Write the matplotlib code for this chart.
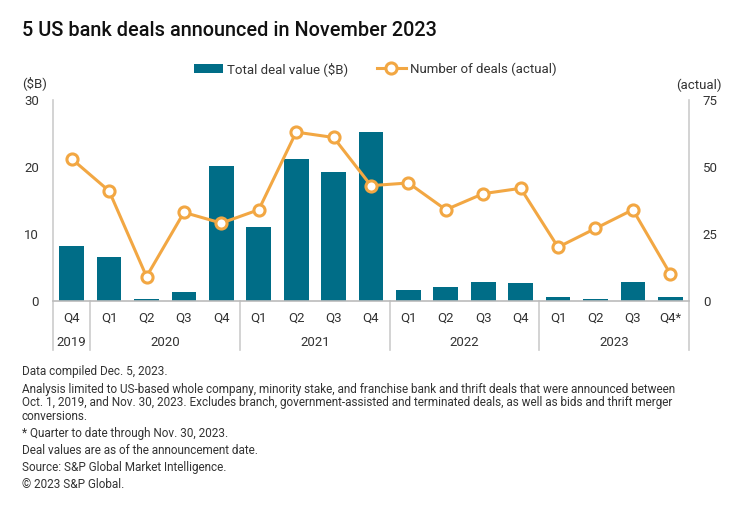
import matplotlib
matplotlib.use("Agg")
import matplotlib.pyplot as plt
from matplotlib.lines import Line2D
import matplotlib.transforms as mtransforms

plt.rcParams['font.family'] = ['Roboto', 'DejaVu Sans']

quarters = ["Q4", "Q1", "Q2", "Q3", "Q4", "Q1", "Q2", "Q3", "Q4",
            "Q1", "Q2", "Q3", "Q4", "Q1", "Q2", "Q3", "Q4*"]
years = ["2019", "2020", "2021", "2022", "2023"]
year_counts = [1, 4, 4, 4, 4]
deal_value = [8.25, 6.55, 0.2, 1.25, 20.1, 11.05, 21.25, 19.25, 25.25,
              1.55, 2.0, 2.8, 2.7, 0.5, 0.2, 2.8, 0.6]
deal_count = [53, 41, 9, 33, 29, 34, 63, 61, 43,
              44, 34, 40, 42, 20, 27, 34, 10]

bar_color = "#006d87"
line_color = "#f2a743"
axis_gray = "#cccccc"
text_color = "#333333"

W, H = 742, 505
fig = plt.figure(figsize=(W / 100, H / 100), dpi=100)
fig.patch.set_facecolor("white")

x0, x1 = 53, 689
y_top, y_zero = 100, 300.7
ax = fig.add_axes([x0 / W, 1 - y_zero / H, (x1 - x0) / W, (y_zero - y_top) / H])
ax2 = ax.twinx()

xs = list(range(len(quarters)))
bars = ax.bar(xs, deal_value, width=0.66, color=bar_color, zorder=2,
              label="Total deal value ($B)")
ln, = ax2.plot(xs, deal_count, color=line_color, lw=2.2, marker="o", ms=8,
               mfc="white", mec=line_color, mew=2.2, zorder=3,
               label="Number of deals (actual)")

ax.set_xlim(-0.5, len(quarters) - 0.5)
ax.set_ylim(0, 30)
ax2.set_ylim(0, 75)
ax.set_yticks([0, 10, 20, 30])
ax2.set_yticks([0, 25, 50, 75])

for a in (ax, ax2):
    for s in a.spines.values():
        s.set_visible(False)
    a.tick_params(axis="y", length=0, labelsize=9.5, colors=text_color, pad=10)
    a.tick_params(axis="x", length=0)
ax.set_xticks([])
ax2.set_xticks([])

# axis lines
ax_h = y_zero - y_top
y_bottom_ax = (y_zero - 350) / ax_h
for xa in (0, 1):
    ax.add_line(Line2D([xa, xa], [y_bottom_ax, 1], transform=ax.transAxes,
                       color=axis_gray, lw=1.2, clip_on=False, zorder=1))
ax.add_line(Line2D([0, 1], [0, 0], transform=ax.transAxes,
                   color="#bbbbbb", lw=1.2, clip_on=False, zorder=4))

trans = mtransforms.blended_transform_factory(ax.transData, ax.transAxes)
for i, q in enumerate(quarters):
    ax.text(i, (y_zero - 318) / ax_h, q, transform=trans, ha="center", va="center",
            fontsize=9.5, color=text_color)

start = 0
for yr, n in zip(years, year_counts):
    center = start + (n - 1) / 2
    ax.text(center, (y_zero - 342) / ax_h, yr, transform=trans, ha="center",
            va="center", fontsize=9.5, color=text_color)
    if start > 0:
        ax.add_line(Line2D([start - 0.5, start - 0.5], [y_bottom_ax, 0],
                           transform=trans, color=axis_gray, lw=1.2,
                           clip_on=False))
    start += n

# title and axis unit labels
fig.text(22 / W, 1 - 31 / H, "5 US bank deals announced in November 2023",
         fontsize=14.3, fontweight="medium", color="#111111", va="center", ha="left")
fig.text(22 / W, 1 - 83 / H, "($B)", fontsize=9.5, color=text_color,
         va="center", ha="left")
fig.text(722 / W, 1 - 85 / H, "(actual)", fontsize=9.5, color=text_color,
         va="center", ha="right")

fig.legend(handles=[bars, ln], loc="center", bbox_to_anchor=(375 / W, 1 - 69 / H),
           ncol=2, frameon=False, fontsize=9.5, handlelength=2.2,
           handletextpad=0.3, columnspacing=2.2, labelcolor=text_color)

notes = [
    (372, "Data compiled Dec. 5, 2023."),
    (389, "Analysis limited to US-based whole company, minority stake, and franchise bank and thrift deals that were announced between"),
    (402.5, "Oct. 1, 2019, and Nov. 30, 2023. Excludes branch, government-assisted and terminated deals, as well as bids and thrift merger"),
    (416, "conversions."),
    (433, "* Quarter to date through Nov. 30, 2023."),
    (451, "Deal values are as of the announcement date."),
    (468, "Source: S&P Global Market Intelligence."),
    (485, "\u00a9 2023 S&P Global."),
]
for y, t in notes:
    fig.text(22 / W, 1 - y / H, t, fontsize=8.5, color=text_color,
             va="center", ha="left")

fig.savefig("out.png", dpi=100, facecolor="white")
